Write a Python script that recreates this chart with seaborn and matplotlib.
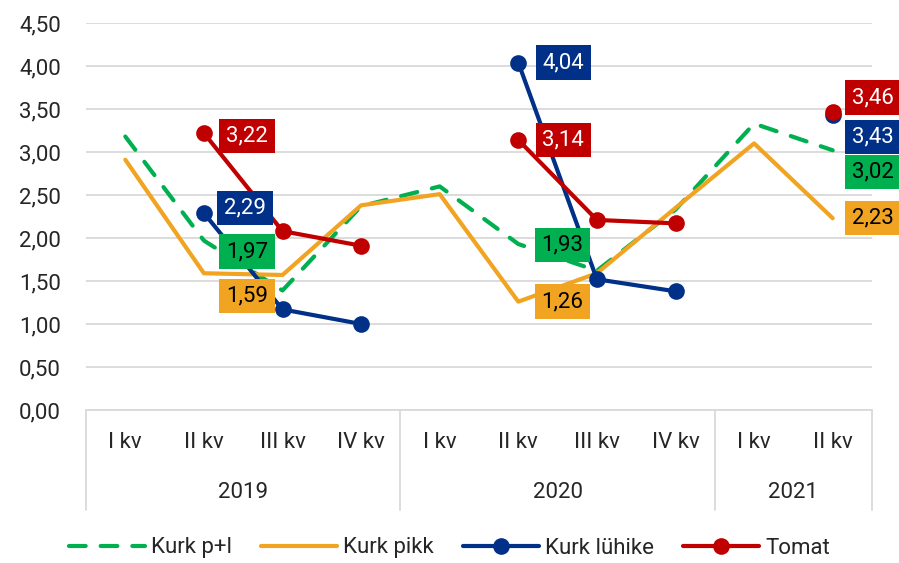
import numpy as np
import pandas as pd
import matplotlib
matplotlib.use("Agg")
import matplotlib.pyplot as plt
import matplotlib.transforms as mtransforms
from matplotlib.lines import Line2D
from matplotlib.ticker import FuncFormatter
import seaborn as sns

# data
quarters = ["I kv", "II kv", "III kv", "IV kv", "I kv", "II kv", "III kv", "IV kv", "I kv", "II kv"]
years = ["2019", "2020", "2021"]
year_of = [0, 0, 0, 0, 1, 1, 1, 1, 2, 2]
kurk_pl = [3.18, 1.97, 1.39, 2.37, 2.60, 1.93, 1.62, 2.33, 3.33, 3.02]
kurk_pikk = [2.91, 1.59, 1.57, 2.38, 2.51, 1.26, 1.59, 2.35, 3.10, 2.23]
kurk_luhike = [np.nan, 2.29, 1.17, 1.00, np.nan, 4.04, 1.52, 1.38, np.nan, 3.43]
tomat = [np.nan, 3.22, 2.08, 1.91, np.nan, 3.14, 2.21, 2.17, np.nan, 3.46]

series = ["Kurk p+l", "Kurk pikk", "Kurk lühike", "Tomat"]
values = [kurk_pl, kurk_pikk, kurk_luhike, tomat]
colors = ["#00B050", "#F0A422", "#003087", "#C00000"]
txt_colors = ["black", "black", "white", "white"]
has_marker = [False, False, True, True]
split_by_year = [False, False, True, True]

# label box offsets in pixels (dx right, dy down) for the "II kv" points of each year
label_off = {
    (0, 1): (43, 11), (1, 1): (43, 23), (2, 1): (41, -5), (3, 1): (43, 3),
    (0, 5): (44, 1), (1, 5): (44, 0), (2, 5): (45, 0), (3, 5): (45, 0),
    (0, 9): (40, 22), (1, 9): (40, 0), (2, 9): (40, 22), (3, 9): (40, -15),
}
DASH = (4.0, 3.6)
FS = 16

sns.set_style("white")
plt.rcParams["font.family"] = ["Roboto", "DejaVu Sans"]

fig = plt.figure(figsize=(8.99, 5.63), dpi=100)
ax = fig.add_axes([86 / 899, 1 - 410 / 563, (872 - 86) / 899, 387 / 563])

x = np.arange(len(quarters))
for i, name in enumerate(series):
    v = np.array(values[i], dtype=float)
    seg = year_of if split_by_year[i] else [0] * len(x)
    df = pd.DataFrame({"x": x, "v": v, "seg": seg}).dropna()
    kw = dict(marker="o", markersize=12, markeredgewidth=0) if has_marker[i] else {}
    n_before = len(ax.lines)
    sns.lineplot(data=df, x="x", y="v", units="seg", estimator=None, color=colors[i],
                 linewidth=3, ax=ax, sort=False, legend=False, zorder=3 + i, **kw)
    for ln in ax.lines[n_before:]:
        ln.set_solid_capstyle("round")
        if i == 0:
            ln.set_dashes(DASH)
            ln.set_dash_capstyle("round")

    for (si, xi), (dx, dy) in label_off.items():
        if si != i:
            continue
        ax.annotate(f"{v[xi]:.2f}".replace(".", ","), xy=(xi, v[xi]),
                    xytext=(dx * 0.72, -dy * 0.72), textcoords="offset points",
                    ha="center", va="center", fontsize=FS, color=txt_colors[i],
                    bbox=dict(boxstyle="square,pad=0.3", fc=colors[i], ec="none"),
                    zorder=10, annotation_clip=False)

ax.set_xlim(-0.5, len(quarters) - 0.5)
ax.set_ylim(0, 4.5)
ax.set_yticks(np.arange(0, 4.51, 0.5))
ax.yaxis.set_major_formatter(FuncFormatter(lambda y, _: f"{y:.2f}".replace(".", ",")))
ax.grid(axis="y", color="#D9D9D9", linewidth=1.3)
ax.set_axisbelow(True)
for s in ax.spines.values():
    s.set_visible(False)
ax.set_xticks(x, quarters)
ax.tick_params(axis="x", length=0, pad=16, labelsize=FS)
ax.tick_params(axis="y", length=0, pad=18, labelsize=FS)
ax.set_xlabel("")
ax.set_ylabel("")

# category separators and year labels
trans = mtransforms.blended_transform_factory(ax.transData, ax.transAxes)
axis_h = 387
for xs in [-0.5, 3.5, 7.5, 9.5]:
    ax.add_line(Line2D([xs, xs], [0, -100 / axis_h], transform=trans, color="#D9D9D9",
                       linewidth=1.3, clip_on=False))
ax.add_line(Line2D([-0.5, 9.5], [0, 0], transform=trans, color="#D9D9D9", linewidth=1.3, clip_on=False))
year_idx = np.array(year_of)
for k, yr in enumerate(years):
    xc = x[year_idx == k].mean()
    ax.text(xc, -83 / axis_h, yr, transform=trans, ha="center", va="center", fontsize=FS)

handles = [
    Line2D([], [], color=colors[0], linewidth=3, dashes=DASH, dash_capstyle="round"),
    Line2D([], [], color=colors[1], linewidth=3),
    Line2D([], [], color=colors[2], linewidth=3, marker="o", markersize=12, markeredgewidth=0),
    Line2D([], [], color=colors[3], linewidth=3, marker="o", markersize=12, markeredgewidth=0),
]
fig.legend(handles, series, loc="center", bbox_to_anchor=(0.5, 1 - 548 / 563), ncol=4,
           frameon=False, fontsize=FS, handlelength=3.4, columnspacing=1.3, handletextpad=0.3)

fig.savefig("out.png", dpi=100)
